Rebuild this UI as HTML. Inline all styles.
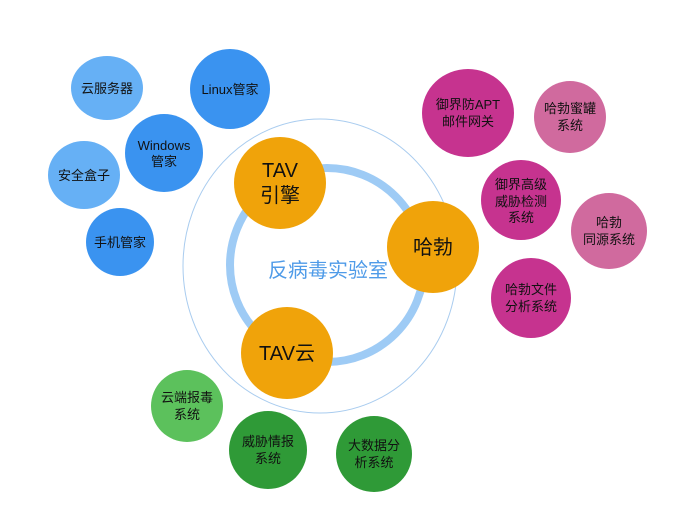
<!DOCTYPE html>
<html><head><meta charset="utf-8"><style>
html,body{margin:0;padding:0;background:#fff;}
svg{display:block;}
text{font-family:"Liberation Sans","Noto Sans CJK SC",sans-serif;text-anchor:middle;fill:#111;}
</style></head><body>
<svg width="685" height="523" viewBox="0 0 685 523" xmlns="http://www.w3.org/2000/svg">
<ellipse cx="320" cy="266" rx="137" ry="147" fill="none" stroke="#a9ccef" stroke-width="1"/>
<circle cx="327" cy="265" r="97" fill="none" stroke="#9ecbf5" stroke-width="8"/>
<text x="328" y="277" font-size="20" style="fill:#4f9be8">反病毒实验室</text>

<circle cx="280" cy="183" r="46" fill="#f0a30a"/>
<text x="280" y="177" font-size="20">TAV</text>
<text x="280" y="202" font-size="20">引擎</text>
<circle cx="433" cy="247" r="46" fill="#f0a30a"/>
<text x="433" y="254" font-size="20">哈勃</text>
<circle cx="287" cy="353" r="46" fill="#f0a30a"/>
<text x="287" y="360" font-size="20">TAV云</text>

<ellipse cx="107" cy="88" rx="36" ry="32" fill="#66b0f5"/>
<text x="107" y="93" font-size="13">云服务器</text>
<circle cx="230" cy="89" r="40" fill="#3a93f0"/>
<text x="230" y="94" font-size="13">Linux管家</text>
<circle cx="164" cy="153" r="39" fill="#3a93f0"/>
<text x="164" y="150" font-size="13">Windows</text>
<text x="164" y="166" font-size="13">管家</text>
<ellipse cx="84" cy="175" rx="36" ry="34" fill="#66b0f5"/>
<text x="84" y="180" font-size="13">安全盒子</text>
<circle cx="120" cy="242" r="34" fill="#3a93f0"/>
<text x="120" y="247" font-size="13">手机管家</text>

<ellipse cx="468" cy="113" rx="46" ry="44" fill="#c6338f"/>
<text x="468" y="109" font-size="13">御界防APT</text>
<text x="468" y="126" font-size="13">邮件网关</text>
<circle cx="570" cy="117" r="36" fill="#d06a9e"/>
<text x="570" y="113" font-size="13">哈勃蜜罐</text>
<text x="570" y="130" font-size="13">系统</text>
<circle cx="521" cy="200" r="40" fill="#c6338f"/>
<text x="521" y="189" font-size="13">御界高级</text>
<text x="521" y="206" font-size="13">威胁检测</text>
<text x="521" y="222" font-size="13">系统</text>
<circle cx="609" cy="231" r="38" fill="#d06a9e"/>
<text x="609" y="227" font-size="13">哈勃</text>
<text x="609" y="244" font-size="13">同源系统</text>
<circle cx="531" cy="298" r="40" fill="#c6338f"/>
<text x="531" y="294" font-size="13">哈勃文件</text>
<text x="531" y="311" font-size="13">分析系统</text>

<circle cx="187" cy="406" r="36" fill="#5cc15c"/>
<text x="187" y="402" font-size="13">云端报毒</text>
<text x="187" y="419" font-size="13">系统</text>
<circle cx="268" cy="450" r="39" fill="#2f9a37"/>
<text x="268" y="446" font-size="13">威胁情报</text>
<text x="268" y="463" font-size="13">系统</text>
<circle cx="374" cy="454" r="38" fill="#2f9a37"/>
<text x="374" y="450" font-size="13">大数据分</text>
<text x="374" y="467" font-size="13">析系统</text>
</svg>
</body></html>
